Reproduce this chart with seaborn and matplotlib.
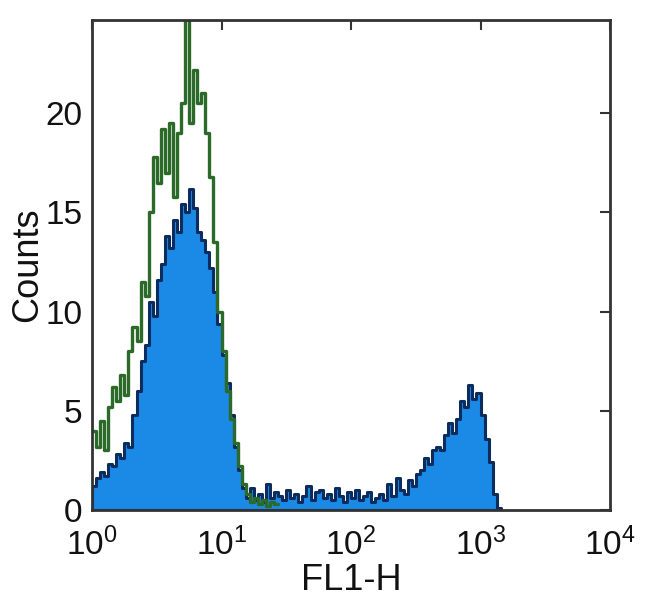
import numpy as np
import pandas as pd
import matplotlib
matplotlib.use("Agg")
import matplotlib.pyplot as plt
import seaborn as sns

# ---- data (counts per channel, 32 channels per decade starting at 10^0) ----
stained_counts = [
    1.2, 1.6, 1.9, 1.7, 2.3, 2.2, 2.8, 2.6, 3.4, 3.2,
    4.8, 6.0, 7.5, 8.3, 10.5, 9.8, 11.6, 12.4, 13.8, 13.2,
    14.6, 14.0, 15.4, 15.0, 16.2, 15.2, 14.0, 13.6, 13.0, 12.2,
    11.0, 9.4, 7.8, 6.4, 4.8, 3.2, 2.0, 1.1, 0.6, 1.1,
    0.5, 0.8, 0.4, 1.3, 0.6, 0.9, 0.7, 0.5, 1.0, 0.6,
    0.8, 0.4, 0.7, 1.2, 0.5, 0.9, 1.0, 0.6, 0.8, 0.5,
    1.1, 0.7, 0.4, 0.9, 0.6, 1.0, 0.5, 0.7, 0.9, 0.4,
    0.6, 0.8, 0.5, 1.3, 0.7, 1.6, 1.0, 0.8, 1.5, 1.2,
    1.8, 2.0, 2.6, 2.3, 3.0, 3.2, 3.0, 3.8, 4.4, 3.9,
    4.6, 5.5, 5.2, 6.3, 5.6, 5.9, 4.8, 3.6, 2.4, 0.8,
    0.1,
]
isotype_counts = [
    4.0, 3.2, 4.5, 3.0, 5.2, 6.2, 5.5, 6.8, 5.8, 8.0,
    9.2, 8.5, 11.5, 10.8, 15.0, 17.8, 16.5, 19.2, 17.0, 19.5,
    15.8, 19.0, 20.5, 25.0, 19.5, 22.2, 20.5, 21.0, 19.0, 16.8,
    13.5, 10.0, 8.0, 6.0, 4.6, 3.4, 2.2, 1.3, 0.8, 0.4,
    0.6, 0.3, 0.5, 0.2, 0.4, 0.3,
]
channels_per_decade = 32
x_ticks = [1, 10, 100, 1000, 10000]
x_tick_labels = [r"$\mathregular{10^{0}}$", r"$\mathregular{10^{1}}$",
                 r"$\mathregular{10^{2}}$", r"$\mathregular{10^{3}}$",
                 r"$\mathregular{10^{4}}$"]
y_ticks = [0, 5, 10, 15, 20]

def frame(counts):
    idx = np.arange(len(counts))
    return pd.DataFrame({
        "fl1": 10 ** ((idx + 0.5) / channels_per_decade),
        "count": counts,
    })

df_s = frame(stained_counts)
df_i = frame(isotype_counts)
edges_s = list(np.arange(len(stained_counts) + 1) / channels_per_decade)
edges_i = list(np.arange(len(isotype_counts) + 1) / channels_per_decade)

sns.set_style("white")
plt.rcParams["font.family"] = ["Liberation Sans", "DejaVu Sans"]
plt.rcParams["mathtext.fontset"] = "custom"
plt.rcParams["mathtext.rm"] = "Liberation Sans"

fig = plt.figure(figsize=(6.5, 6.15), dpi=100)
ax = fig.add_axes([92 / 650, 1 - 510 / 615, 518 / 650, 490 / 615])

sns.histplot(data=df_s, x="fl1", weights="count", bins=edges_s, log_scale=True,
             element="step", fill=True, color="#1a8ae6", alpha=1.0,
             edgecolor="#0b2c5c", linewidth=2.2, ax=ax)
sns.histplot(data=df_i, x="fl1", weights="count", bins=edges_i, log_scale=True,
             element="step", fill=False, color="#2b6a28", linewidth=2.4, ax=ax)

ax.set_xlim(1, 10000)
ax.set_ylim(0, 24.7)
ax.set_xticks(x_ticks)
ax.set_xticklabels(x_tick_labels)
ax.minorticks_off()
ax.set_yticks(y_ticks)
ax.tick_params(axis="both", which="major", direction="in", length=7, width=1.5,
               top=True, right=True, labelsize=24, colors="#333333",
               labelcolor="#111111")
ax.tick_params(axis="x", pad=13)
ax.tick_params(axis="y", pad=7)
for s in ax.spines.values():
    s.set_color("#333333")
    s.set_linewidth(2)
ax.set_xlabel("FL1-H", fontsize=26, color="#111111", labelpad=0)
ax.set_ylabel("Counts", fontsize=26, color="#111111", labelpad=0)

fig.savefig("out.png", dpi=100)
